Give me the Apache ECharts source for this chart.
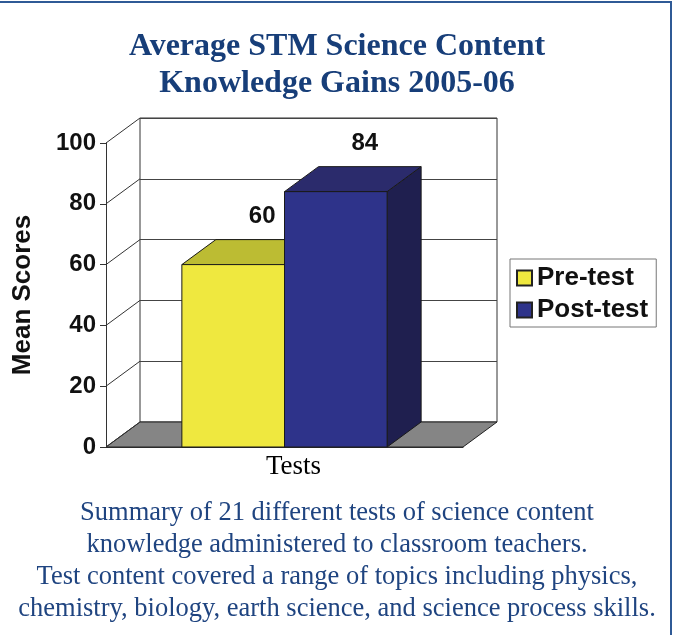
<!DOCTYPE html>
<html>
<head>
<meta charset="utf-8">
<script src="https://cdn.jsdelivr.net/npm/echarts@6/dist/echarts.min.js"></script>
<style>
  html, body { margin: 0; padding: 0; background: #fff; }
  #chart { width: 674px; height: 635px; }
</style>
</head>
<body>
<div id="chart"></div>
<script>
// data
let categories = ['Tests'];
let seriesNames = ['Pre-test', 'Post-test'];
let preTest = [60];
let postTest = [84];
let wallTicks = [0, 20, 40, 60, 80, 100];

let titleLines = ['Average STM Science Content', 'Knowledge Gains 2005-06'];
let noteLines = [
  'Summary of 21 different tests of science content',
  'knowledge administered to classroom teachers.',
  'Test content covered a range of topics including physics,',
  'chemistry, biology, earth science, and science process skills.'
];

// fake 3d depth of the plot box
let depthX = 34, depthY = -25;

let faceColors = ['#efe83f', '#2e338a'];
let topColors = ['#bcbc33', '#2b2b6c'];
let sideColors = ['#a8a62a', '#1f1f4f'];

function barRenderer(k) {
  return function (params, api) {
    let c = api.value(0);
    let v = api.value(1);
    let base = api.coord([c, 0]);
    let top = api.coord([c, v]);
    let band = api.size([1, 0])[0];
    let barW = band * 0.2875;
    let x0 = base[0] - barW + k * barW;
    let x1 = x0 + barW;
    let edge = { stroke: '#1a1a1a', lineWidth: 1 };
    return {
      type: 'group',
      children: [
        {
          type: 'polygon',
          shape: { points: [[x1, top[1]], [x1 + depthX, top[1] + depthY], [x1 + depthX, base[1] + depthY], [x1, base[1]]] },
          style: Object.assign({ fill: sideColors[k] }, edge)
        },
        {
          type: 'polygon',
          shape: { points: [[x0, top[1]], [x1, top[1]], [x1 + depthX, top[1] + depthY], [x0 + depthX, top[1] + depthY]] },
          style: Object.assign({ fill: topColors[k] }, edge)
        },
        {
          type: 'rect',
          shape: { x: x0, y: top[1], width: barW, height: base[1] - top[1] },
          style: Object.assign({ fill: faceColors[k] }, edge)
        },
        {
          type: 'text',
          x: x0 + barW / 2 + 29,
          y: top[1] + depthY - 23,
          style: {
            text: String(v),
            fontFamily: 'Liberation Sans, Arial',
            fontWeight: 'bold',
            fontSize: 24,
            fill: '#111',
            align: 'center',
            verticalAlign: 'middle'
          }
        }
      ]
    };
  };
}

let myChart = echarts.init(document.getElementById('chart'));

let option = {
  animation: false,
  backgroundColor: '#fff',
  title: [
    {
      text: titleLines.join('\n'),
      left: 'center',
      top: 23,
      padding: [5, 13, 5, 5],
      textStyle: {
        fontFamily: 'Liberation Serif, Times New Roman',
        fontWeight: 'bold',
        fontSize: 32,
        lineHeight: 37,
        color: '#173e79'
      }
    },
    {
      text: noteLines.join('\n'),
      left: 'center',
      top: 492,
      textStyle: {
        fontFamily: 'Liberation Serif, Times New Roman',
        fontWeight: 'normal',
        fontSize: 26.5,
        lineHeight: 32,
        color: '#1f4480'
      }
    }
  ],
  legend: {
    orient: 'vertical',
    left: 510,
    top: 259,
    data: seriesNames,
    icon: 'rect',
    itemWidth: 15,
    itemHeight: 15,
    itemGap: 6,
    padding: [6, 8, 4, 6],
    borderColor: '#777',
    borderWidth: 1,
    textStyle: {
      fontFamily: 'Liberation Sans, Arial',
      fontWeight: 'bold',
      fontSize: 26,
      color: '#111'
    }
  },
  grid: [
    // back wall
    { show: true, left: 140, top: 118, width: 357, height: 304, backgroundColor: '#fff', borderColor: '#333', borderWidth: 1 },
    // front plane
    { left: 106, top: 143, width: 357, height: 304 }
  ],
  xAxis: [
    { gridIndex: 0, type: 'category', data: categories, show: false },
    {
      gridIndex: 1,
      type: 'category',
      data: categories,
      axisLine: { lineStyle: { color: '#333' } },
      axisTick: { length: 6, lineStyle: { color: '#333' } },
      axisLabel: {
        margin: 6,
        padding: [0, 0, 0, 18],
        fontFamily: 'Liberation Serif, Times New Roman',
        fontSize: 27,
        color: '#000'
      }
    }
  ],
  yAxis: [
    {
      gridIndex: 0, type: 'value', min: 0, max: 100, interval: 20,
      axisLine: { show: false }, axisTick: { show: false }, axisLabel: { show: false },
      splitLine: { lineStyle: { color: '#444', width: 1 } }
    },
    {
      gridIndex: 1, type: 'value', min: 0, max: 100, interval: 20,
      name: 'Mean Scores',
      nameLocation: 'middle',
      nameGap: 70,
      nameRotate: 90,
      nameTextStyle: {
        fontFamily: 'Liberation Sans, Arial',
        fontWeight: 'bold',
        fontSize: 26,
        color: '#111'
      },
      axisLine: { show: true, lineStyle: { color: '#333' } },
      axisTick: { show: true, length: 6, lineStyle: { color: '#333' } },
      axisLabel: {
        margin: 10,
        fontFamily: 'Liberation Sans, Arial',
        fontWeight: 'bold',
        fontSize: 24,
        color: '#111'
      },
      splitLine: { show: false }
    }
  ],
  series: [
    {
      // floor
      type: 'custom',
      xAxisIndex: 1, yAxisIndex: 1,
      z: 1,
      silent: true,
      data: [[0, 0]],
      renderItem: function (params, api) {
        let p = api.coord([api.value(0), api.value(1)]);
        let half = api.size([1, 0])[0] / 2;
        return {
          type: 'polygon',
          shape: { points: [[p[0] - half, p[1]], [p[0] + half, p[1]], [p[0] + half + depthX, p[1] + depthY], [p[0] - half + depthX, p[1] + depthY]] },
          style: { fill: '#858585', stroke: '#222', lineWidth: 1 }
        };
      }
    },
    {
      // left wall grid lines
      type: 'custom',
      xAxisIndex: 1, yAxisIndex: 1,
      z: 1,
      silent: true,
      data: wallTicks.map(function (v) { return [0, v]; }),
      renderItem: function (params, api) {
        let p = api.coord([api.value(0), api.value(1)]);
        let half = api.size([1, 0])[0] / 2;
        let x = p[0] - half;
        return {
          type: 'line',
          shape: { x1: x, y1: p[1], x2: x + depthX, y2: p[1] + depthY },
          style: { stroke: '#333', lineWidth: 1 }
        };
      }
    },
    {
      name: seriesNames[0],
      type: 'custom',
      xAxisIndex: 1, yAxisIndex: 1,
      z: 3,
      itemStyle: { color: faceColors[0], borderColor: '#222', borderWidth: 1 },
      data: preTest.map(function (v, i) { return [i, v]; }),
      renderItem: barRenderer(0)
    },
    {
      name: seriesNames[1],
      type: 'custom',
      xAxisIndex: 1, yAxisIndex: 1,
      z: 3,
      itemStyle: { color: faceColors[1], borderColor: '#222', borderWidth: 1 },
      data: postTest.map(function (v, i) { return [i, v]; }),
      renderItem: barRenderer(1)
    }
  ],
  graphic: [
    { type: 'line', shape: { x1: 0, y1: 2, x2: 672, y2: 2 }, style: { stroke: '#2f5a96', lineWidth: 2 } },
    { type: 'line', shape: { x1: 671, y1: 1, x2: 671, y2: 635 }, style: { stroke: '#2f5a96', lineWidth: 2 } }
  ]
};

myChart.setOption(option);
</script>
</body>
</html>
